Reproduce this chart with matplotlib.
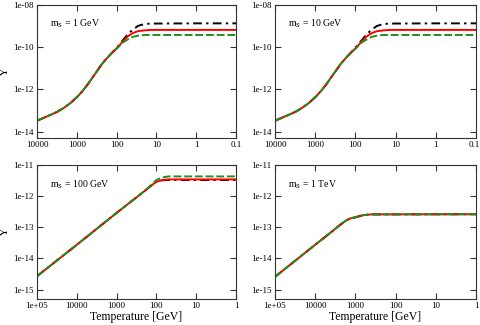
import matplotlib
matplotlib.use("Agg")
import matplotlib.pyplot as plt
import matplotlib.transforms as mtransforms
from matplotlib.ticker import FixedLocator, FixedFormatter, NullLocator

plt.rcParams['font.family'] = ['Liberation Serif', 'DejaVu Serif']
plt.rcParams['mathtext.fontset'] = 'stix'

# ---- data (Temperature in GeV, Y) ----
# m_S = 1 GeV
t_1gev = [10000, 6800, 4600, 3100, 2100, 1430, 970, 730, 540, 410, 300, 230, 170, 126, 94,
          70, 53, 39, 29, 20, 13.5, 1, 0.1]
red_1gev = [3.3e-14, 4.5e-14, 6.2e-14, 8.7e-14, 1.35e-13, 2.3e-13, 4.5e-13, 8.1e-13, 1.66e-12,
            3.5e-12, 8.1e-12, 1.66e-11, 3.2e-11, 5.8e-11, 1.0e-10,
            1.86e-10, 3.2e-10, 4.7e-10, 5.75e-10, 6.3e-10, 6.6e-10, 6.6e-10, 6.6e-10]
black_1gev = [3.3e-14, 4.5e-14, 6.2e-14, 8.7e-14, 1.35e-13, 2.3e-13, 4.5e-13, 8.1e-13, 1.66e-12,
              3.5e-12, 8.1e-12, 1.66e-11, 3.2e-11, 5.8e-11, 1.07e-10,
              2.1e-10, 4.0e-10, 6.9e-10, 1.02e-09, 1.26e-09, 1.32e-09, 1.35e-09, 1.35e-09]
green_1gev = [3.3e-14, 4.5e-14, 6.2e-14, 8.7e-14, 1.35e-13, 2.3e-13, 4.5e-13, 8.1e-13, 1.66e-12,
              3.5e-12, 8.1e-12, 1.66e-11, 3.2e-11, 5.8e-11, 9.3e-11,
              1.66e-10, 2.3e-10, 3.1e-10, 3.55e-10, 3.8e-10, 3.8e-10, 3.8e-10, 3.8e-10]

# m_S = 10 GeV
t_10gev = [10000, 6800, 4600, 3100, 2100, 1430, 970, 730, 540, 410, 300, 230, 170, 126, 94,
           70, 53, 39, 29, 20, 13.5, 1, 0.1]
red_10gev = [3.3e-14, 4.5e-14, 6.2e-14, 8.7e-14, 1.35e-13, 2.3e-13, 4.5e-13, 8.1e-13, 1.66e-12,
             3.5e-12, 8.1e-12, 1.66e-11, 3.2e-11, 5.8e-11, 1.0e-10,
             1.86e-10, 3.2e-10, 4.7e-10, 5.75e-10, 6.3e-10, 6.6e-10, 6.6e-10, 6.6e-10]
black_10gev = [3.3e-14, 4.5e-14, 6.2e-14, 8.7e-14, 1.35e-13, 2.3e-13, 4.5e-13, 8.1e-13, 1.66e-12,
               3.5e-12, 8.1e-12, 1.66e-11, 3.2e-11, 5.8e-11, 1.07e-10,
               2.1e-10, 4.0e-10, 6.9e-10, 1.02e-09, 1.26e-09, 1.32e-09, 1.35e-09, 1.35e-09]
green_10gev = [3.3e-14, 4.5e-14, 6.2e-14, 8.7e-14, 1.35e-13, 2.3e-13, 4.5e-13, 8.1e-13, 1.66e-12,
               3.5e-12, 8.1e-12, 1.66e-11, 3.2e-11, 5.8e-11, 9.3e-11,
               1.66e-10, 2.3e-10, 3.1e-10, 3.55e-10, 3.8e-10, 3.8e-10, 3.8e-10, 3.8e-10]

# m_S = 100 GeV
t_100gev = [1e5, 1e4, 1000, 200, 140, 100, 70, 50, 1]
red_100gev = [2.7e-15, 2.75e-14, 2.9e-13, 1.45e-12, 2.1e-12, 2.9e-12, 3.3e-12, 3.45e-12, 3.45e-12]
black_100gev = [2.7e-15, 2.75e-14, 2.9e-13, 1.45e-12, 2.1e-12, 2.9e-12, 3.25e-12, 3.3e-12, 3.3e-12]
green_100gev = [2.7e-15, 2.75e-14, 2.9e-13, 1.45e-12, 2.2e-12, 3.3e-12, 4.0e-12, 4.3e-12, 4.3e-12]

# m_S = 1 TeV (all three curves coincide)
t_1tev = [1e5, 1e4, 3700, 2500, 1700, 1300, 1000, 650, 400, 1]
y_1tev = [2.57e-15, 2.75e-14, 7.6e-14, 1.15e-13, 1.66e-13, 1.95e-13, 2.09e-13, 2.45e-13,
          2.6e-13, 2.63e-13]

labels = ['m$_\\mathrm{S}$ = 1 GeV', 'm$_\\mathrm{S}$ = 10 GeV',
          'm$_\\mathrm{S}$ = 100 GeV', 'm$_\\mathrm{S}$ = 1 TeV']

xt_top = [10000, 1000, 100, 10, 1, 0.1]
xl_top = ['10000', '1000', '100', '10', '1', '0.1']
xt_bot = [1e5, 1e4, 1000, 100, 10, 1]
xl_bot = ['1e+05', '10000', '1000', '100', '10', '1']
yt_top = [1e-14, 1e-12, 1e-10, 1e-8]
yl_top = ['1e-14', '1e-12', '1e-10', '1e-08']
yt_bot = [1e-15, 1e-14, 1e-13, 1e-12, 1e-11]
yl_bot = ['1e-15', '1e-14', '1e-13', '1e-12', '1e-11']

fig = plt.figure(figsize=(4.8, 3.25), dpi=100)
W, H = 480, 325


def make_ax(l, r, t, b):
    return fig.add_axes([l / W, 1 - b / H, (r - l) / W, (b - t) / H])


axes = [make_ax(37, 236, 5, 138), make_ax(275, 476, 5, 138),
        make_ax(37, 236, 165, 299), make_ax(275, 476, 165, 299)]

green = '#1f8f1f'
dash = (0, (4.0, 1.5))
dashdot = (0, (4.5, 2.2, 1.2, 2.2))

curves = [
    (t_1gev, black_1gev, red_1gev, green_1gev),
    (t_10gev, black_10gev, red_10gev, green_10gev),
    (t_100gev, black_100gev, red_100gev, green_100gev),
    (t_1tev, y_1tev, y_1tev, y_1tev),
]

for i, ax in enumerate(axes):
    t, yb, yr, yg = curves[i]
    ax.plot(t, yb, color='black', lw=1.4, ls=dashdot)
    ax.plot(t, yr, color='red', lw=1.4)
    ax.plot(t, yg, color=green, lw=1.4, ls=dash)
    ax.set_xscale('log')
    ax.set_yscale('log')
    if i < 2:
        ax.set_xlim(1e4, 0.1)
        ax.set_ylim(5e-15, 1e-8)
        ax.xaxis.set_major_locator(FixedLocator(xt_top))
        ax.xaxis.set_major_formatter(FixedFormatter(xl_top))
        ax.yaxis.set_major_locator(FixedLocator(yt_top))
        ax.yaxis.set_major_formatter(FixedFormatter(yl_top))
    else:
        ax.set_xlim(1e5, 1)
        ax.set_ylim(5e-16, 1e-11)
        ax.xaxis.set_major_locator(FixedLocator(xt_bot))
        ax.xaxis.set_major_formatter(FixedFormatter(xl_bot))
        ax.yaxis.set_major_locator(FixedLocator(yt_bot))
        ax.yaxis.set_major_formatter(FixedFormatter(yl_bot))
        ax.set_xlabel('Temperature [GeV]', fontsize=8.5, labelpad=0.5)
    ax.xaxis.set_minor_locator(NullLocator())
    ax.yaxis.set_minor_locator(NullLocator())
    ax.tick_params(direction='in', top=True, right=True, length=4, width=0.8,
                   labelsize=6.5, pad=2.5, color='#333333')
    for s in ax.spines.values():
        s.set_linewidth(0.8)
        s.set_color('#333333')
    if i % 2 == 0:
        ax.set_ylabel('Y', fontsize=9)
        ax.yaxis.set_label_coords(-0.13, 0.5)
    ax.text(0.065, 0.835, labels[i], transform=ax.transAxes, fontsize=7)

# keep the last "0.1" label of the top-right panel inside the figure
last = axes[1].get_xticklabels()[-1]
last.set_transform(last.get_transform() + mtransforms.ScaledTranslation(-2 / 100, 0, fig.dpi_scale_trans))

fig.savefig('out.png', dpi=100)
